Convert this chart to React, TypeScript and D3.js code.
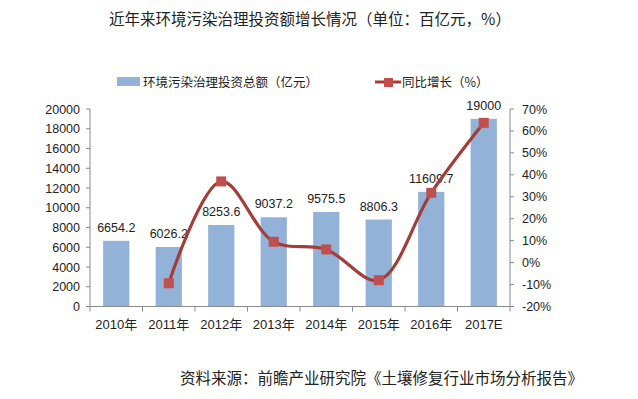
import React from "react";
import * as d3 from "d3";

const categories = ["2010年", "2011年", "2012年", "2013年", "2014年", "2015年", "2016年", "2017E"];
const investment = [6654.2, 6026.2, 8253.6, 9037.2, 9575.5, 8806.3, 11609.7, 19000];
const growth = [null, -9.4, 37.0, 9.5, 6.0, -8.0, 31.8, 63.7];
const leftTicks = [0, 2000, 4000, 6000, 8000, 10000, 12000, 14000, 16000, 18000, 20000];
const rightTicks = [-20, -10, 0, 10, 20, 30, 40, 50, 60, 70];

const title = "近年来环境污染治理投资额增长情况（单位：百亿元，%）";
const legendBar = "环境污染治理投资总额（亿元）";
const legendLine = "同比增长（%）";
const source = "资料来源：前瞻产业研究院《土壤修复行业市场分析报告》";

const W = 638, H = 399;
const X0 = 90, X1 = 510, Y0 = 306.5, Y1 = 109;
const numFont = "'Liberation Sans', 'Noto Sans CJK SC', sans-serif";
const cjkFont = "'Noto Sans CJK SC', sans-serif";
const axisColor = "#8a8a8a";
const barColor = "#93b2d7";
const lineColor = "#a33d39";
const markerColor = "#c0504d";

export default function App() {
  const x = d3.scaleBand<string>().domain(categories).range([X0, X1]).paddingInner(0.5).paddingOuter(0.25);
  const xb = d3.scaleBand<string>().domain(categories).range([X0, X1]);
  const yL = d3.scaleLinear().domain([0, 20000]).range([Y0, Y1]);
  const yR = d3.scaleLinear().domain([-20, 70]).range([Y0, Y1]);
  const pts = categories
    .map((c, i) => ({ c, v: growth[i] }))
    .filter((d) => d.v !== null) as { c: string; v: number }[];
  const line = d3
    .line<{ c: string; v: number }>()
    .x((d) => (xb(d.c) as number) + xb.bandwidth() / 2)
    .y((d) => yR(d.v))
    .curve(d3.curveCatmullRom.alpha(0.5));

  return (
    <svg width={W} height={H} style={{ position: "absolute", left: 0, top: 0, background: "#fff" }}>
      <rect x={0} y={0} width={W} height={H} fill="#fff" />
      <text x={310} y={25} textAnchor="middle" fontFamily={cjkFont} fontSize={15.5} fill="#222">{title}</text>

      {/* legend */}
      <rect x={117} y={77} width={23} height={9} fill={barColor} />
      <text x={143} y={86.5} fontFamily={cjkFont} fontSize={12.5} fill="#222">{legendBar}</text>
      <line x1={375} x2={401} y1={82} y2={82} stroke={lineColor} strokeWidth={3} />
      <rect x={384} y={78} width={9} height={9} fill={markerColor} />
      <text x={402} y={86.5} fontFamily={cjkFont} fontSize={12.5} fill="#222">{legendLine}</text>

      {/* bars */}
      {categories.map((c, i) => (
        <rect key={c} x={x(c)} y={yL(investment[i])} width={x.bandwidth()} height={Y0 - yL(investment[i])} fill={barColor} />
      ))}
      {categories.map((c, i) => (
        <text key={"l" + c} x={(x(c) as number) + x.bandwidth() / 2} y={yL(investment[i]) - 9} textAnchor="middle" fontFamily={numFont} fontSize={12.5} fill="#222">
          {d3.format(".1f")(investment[i]).replace(/\.0$/, "")}
        </text>
      ))}

      {/* axes */}
      <line x1={X0} x2={X0} y1={Y1} y2={Y0} stroke={axisColor} />
      <line x1={X1} x2={X1} y1={Y1} y2={Y0} stroke={axisColor} />
      <line x1={X0} x2={X1} y1={Y0} y2={Y0} stroke={axisColor} />
      {leftTicks.map((t) => (
        <g key={"lt" + t}>
          <line x1={X0 - 4} x2={X0} y1={yL(t)} y2={yL(t)} stroke={axisColor} />
          <text x={X0 - 10} y={yL(t) + 4.5} textAnchor="end" fontFamily={numFont} fontSize={12.5} fill="#222">{t}</text>
        </g>
      ))}
      {rightTicks.map((t) => (
        <g key={"rt" + t}>
          <line x1={X1} x2={X1 + 4} y1={yR(t)} y2={yR(t)} stroke={axisColor} />
          <text x={X1 + 12} y={yR(t) + 4.5} textAnchor="start" fontFamily={numFont} fontSize={12.5} fill="#222">{t}%</text>
        </g>
      ))}
      {categories.map((c) => (
        <line key={"ct" + c} x1={(xb(c) as number)} x2={(xb(c) as number)} y1={Y0} y2={Y0 + 5} stroke={axisColor} />
      ))}
      <line x1={X1} x2={X1} y1={Y0} y2={Y0 + 5} stroke={axisColor} />
      {categories.map((c) => (
        <text key={"cl" + c} x={(xb(c) as number) + xb.bandwidth() / 2} y={329} textAnchor="middle" fontFamily={numFont} fontSize={13} fill="#222">{c}</text>
      ))}

      {/* line */}
      <path d={line(pts) || ""} fill="none" stroke={lineColor} strokeWidth={3.2} />
      {pts.map((d) => (
        <rect key={"m" + d.c} x={(xb(d.c) as number) + xb.bandwidth() / 2 - 5} y={yR(d.v) - 5} width={10} height={10} fill={markerColor} />
      ))}

      <text x={180} y={384} fontFamily={cjkFont} fontSize={15.5} fill="#222">{source}</text>
    </svg>
  );
}
